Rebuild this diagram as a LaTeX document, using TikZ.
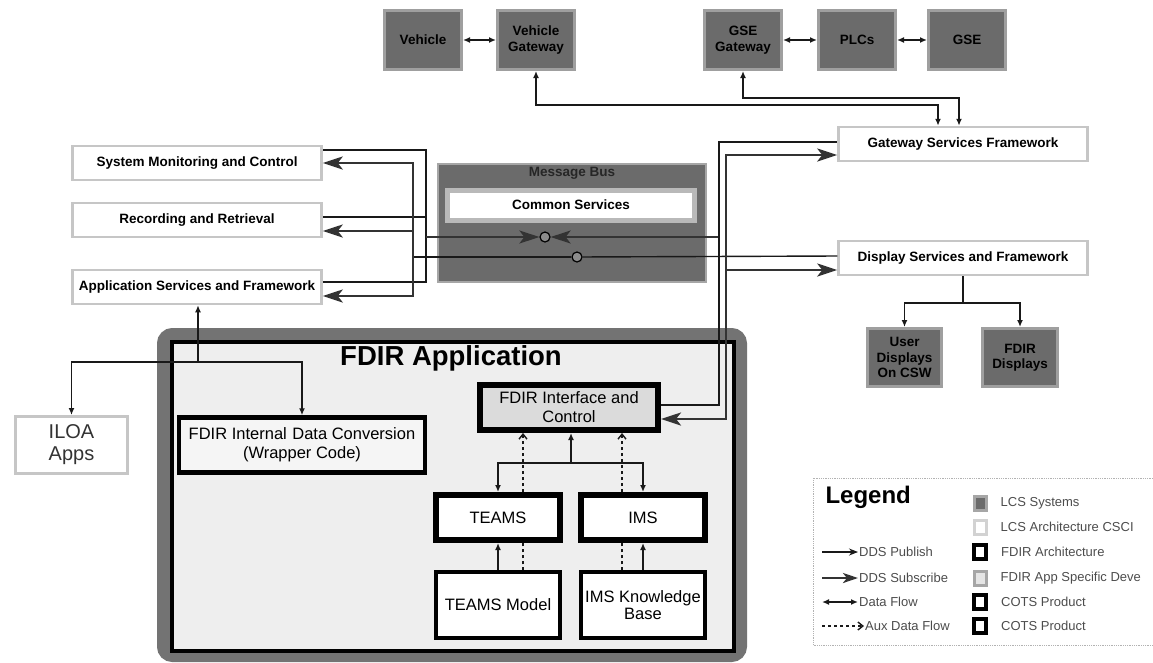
\documentclass[tikz,border=0pt]{standalone}
\usepackage{fontspec}
\setmainfont{Liberation Sans}
\usetikzlibrary{positioning, arrows.meta}

\begin{document}
\begin{tikzpicture}
[x=1pt, y=-1pt,
 >={Latex[length=7pt,width=6pt]},
 node distance=33pt,
 wire/.style={draw=black!90, line width=1.4pt},
 flow/.style={wire, <->},
 sub/.style={draw=black!80, line width=2.6pt, -{Stealth[length=20pt,width=13pt,inset=5pt]}},
 aux/.style={wire, dashed, -{Straight Barb[length=5pt,width=8pt]}},
 lcs/.style={draw=gray!75, line width=3pt, fill=black!58, align=center, inner sep=1pt,
   font=\bfseries\fontsize{13.5}{15.5}\selectfont, minimum width=77pt, minimum height=59pt},
 csci/.style={draw=gray!45, line width=2.5pt, fill=white, inner sep=1pt,
   font=\bfseries\fontsize{13.5}{15.5}\selectfont, minimum width=249pt, minimum height=34pt},
 fdir/.style={draw=black, line width=6pt, fill=white, align=center, inner sep=1pt,
   font=\fontsize{16.5}{19}\selectfont, minimum width=124pt, minimum height=45pt},
 cots/.style={draw=black, line width=3.5pt, fill=white, align=center, inner sep=1pt,
   font=\fontsize{16.5}{17}\selectfont, minimum width=124pt, minimum height=66pt},
 hub/.style={circle, draw=black, line width=1.2pt, fill=black!45, minimum size=10pt, inner sep=0pt},
 swatch/.style={minimum width=12pt, minimum height=14pt, inner sep=0pt},
 legtext/.style={anchor=west, inner sep=1pt, text=black!70, font=\fontsize{13}{15}\selectfont}
]
\useasboundingbox (0,0) rectangle (1153,662);

% FDIR application frame
\draw[black!55, line width=13pt, rounded corners=9pt, fill=gray!13] (163.5,334.5) rectangle (740.5,655.5);
\draw[line width=3.5pt] (172,342) rectangle (734,651);
\node[font=\bfseries\fontsize{27.5}{30}\selectfont] (apptitle) at (451,358) {FDIR Application};

% LCS systems
\node[lcs] (veh) at (423,40) {Vehicle};
\node[lcs, right=of veh] (vgw) {Vehicle\\Gateway};
\node[lcs] (ggw) at (743,40) {GSE\\Gateway};
\node[lcs, right=34pt of ggw] (plc) {PLCs};
\node[lcs, right=30pt of plc] (gse) {GSE};
\node[lcs, minimum width=74pt, minimum height=58pt] (usr) at (904.5,357.5) {User\\Displays\\On CSW};
\node[lcs, minimum width=75pt, minimum height=58pt] (fdd) at (1020,357.5) {FDIR\\Displays};

% LCS architecture CSCIs
\node[csci] (smc) at (197,163) {System Monitoring and Control};
\node[csci] (rec) at (197,220) {Recording and Retrieval};
\node[csci] (asf) at (197,287) {Application Services and Framework};
\node[csci] (gsf) at (963,144) {Gateway Services Framework};
\node[csci] (dsf) at (963,258) {Display Services and Framework};
\node[draw=gray!45, line width=3pt, fill=white, minimum width=112pt, minimum height=57pt,
  align=center, text=black!80, font=\fontsize{20}{22}\selectfont] (iloa) at (71.5,445) {ILOA\\Apps};

% message bus
\node[draw=gray!70, line width=2pt, fill=black!58, minimum width=268pt, minimum height=118pt] (bus) at (572,223) {};
\node[font=\bfseries\fontsize{13.5}{15.5}\selectfont, text=black!85] (bustitle) at (572,173) {Message Bus};
\node[draw=gray!55, line width=5pt, fill=white, minimum width=247pt, minimum height=30pt,
  font=\bfseries\fontsize{13.5}{15.5}\selectfont] (cmn) at (571,205) {Common Services};
\node[hub] (c1) at (545,237) {};
\node[hub] (c2) at (577,257) {};

% FDIR boxes
\node[cots, line width=4.5pt, fill=gray!8, minimum width=246pt, minimum height=55pt, font=\fontsize{16.5}{19}\selectfont] (wrp) at (302,445) {FDIR Internal\,\,Data Conversion\\(Wrapper Code)};
\node[fdir, fill=gray!28, minimum width=178pt] (ifc) at (569,407.5) {FDIR Interface and\\Control};
\node[fdir] (teams) at (498,517.5) {TEAMS};
\node[fdir] (ims) at (643,517.5) {IMS};
\node[cots] (tmod) at (498,605) {TEAMS Model};
\node[cots] (ikb) at (643,605) {IMS Knowledge\\Base};

\coordinate (pj) at (426,237);
\coordinate (sj) at (413,257);
\coordinate (rj) at (719,237);
\coordinate (dj) at (726,257);
\coordinate (aj) at (198,362);
\coordinate (tj) at (571,463);
\coordinate (dtj) at (963,303);

\draw[flow] (veh) -- (vgw);
\draw[flow] (ggw) -- (plc);
\draw[flow] (plc) -- (gse);
\draw[flow] (vgw.south) |- (938,105) -- ([xshift=-25pt]gsf.north);
\draw[flow] (ggw.south) |- (959,98) -- ([xshift=-4pt]gsf.north);

% publish into the bus
\draw[wire] ([yshift=13pt]smc.east) -| (pj);
\draw[wire] ([yshift=3pt]rec.east) -| (pj);
\draw[wire] ([yshift=5pt]asf.east) -| (pj);
\draw[sub] (pj) -- (c1);
\draw[sub] (rj) -- (c1);
\draw[wire] ([yshift=2.5pt]ifc.east) -| (719,142) -- ([yshift=2pt]gsf.west);

% subscribe from the bus
\draw[wire] (sj) -- (c2);
\draw[wire] (c2) -- ([yshift=2pt]dsf.west);
\draw[sub] (sj) |- (smc.east);
\draw[sub] (sj) |- ([yshift=-11pt]rec.east);
\draw[sub] (sj) |- ([yshift=-9pt]asf.east);
\draw[sub] (dj) |- ([yshift=-11pt]gsf.west);
\draw[sub] (dj) |- ([yshift=-12pt]dsf.west);
\draw[sub] (dj) |- ([yshift=-11.5pt]ifc.east);

\draw[wire] (dsf.south) -- (dtj);
\draw[wire, ->] (dtj) -| (usr.north);
\draw[wire, ->] (dtj) -| (fdd.north);

\draw[wire, ->] (aj) -- (asf.south -| aj);
\draw[wire, ->] (aj) -| (iloa.north);
\draw[wire, ->] (aj) -| (wrp.north);

\draw[wire, ->] (tj) -- (ifc.south -| tj);
\draw[wire, ->] (tj) -| (teams.north);
\draw[wire, ->] (tj) -| (ims.north);
\draw[aux] ([xshift=25pt]teams.north) -- ([xshift=25pt]teams.north |- ifc.south);
\draw[aux] ([xshift=-21pt]ims.north) -- ([xshift=-21pt]ims.north |- ifc.south);
\draw[wire, dashed] ([xshift=25pt]tmod.north) -- ([xshift=25pt]teams.south);
\draw[wire, dashed] ([xshift=-21pt]ikb.north) -- ([xshift=-21pt]ims.south);
\draw[wire, ->] (tmod) -- (teams);
\draw[wire, ->] (ikb) -- (ims);

% legend
\draw[gray!60, line width=0.8pt, densely dotted] (1153,478) -- (813,478) -- (813,645) -- (1153,645);
\node[anchor=west, font=\bfseries\fontsize{24}{26}\selectfont] (leg) at (822,497) {Legend};
\node[swatch, draw=gray!70, line width=3pt, fill=black!58] (s1) at (980,503) {};
\node[swatch, draw=gray!35, line width=3pt, fill=white] (s2) at (980,527) {};
\node[swatch, draw=black, line width=4pt, fill=white] (s3) at (980,552) {};
\node[swatch, draw=gray!70, line width=3pt, fill=gray!20] (s4) at (980,578) {};
\node[swatch, draw=black, line width=4pt, fill=white] (s5) at (980,602) {};
\node[swatch, draw=black, line width=4pt, fill=white] (s6) at (980,626) {};
\node[legtext, right=12pt of s1] {LCS Systems};
\node[legtext, right=12pt of s2] {LCS Architecture CSCI};
\node[legtext, right=12pt of s3] {FDIR Architecture};
\node[legtext, right=12pt of s4] {FDIR App Specific Deve};
\node[legtext, right=12pt of s5] {COTS Product};
\node[legtext, right=12pt of s6] {COTS Product};
\node[legtext] (lpub) at (858,552) {DDS Publish};
\node[legtext] (lsub) at (858,578) {DDS Subscribe};
\node[legtext] (lflow) at (858,602) {Data Flow};
\node[legtext] (laux) at (864,626) {Aux Data Flow};
\draw[wire, -{Stealth[length=9pt,width=7pt]}] ([xshift=-36pt]lpub.west) -- (lpub.west);
\draw[sub, -{Stealth[length=15pt,width=10pt,inset=4pt]}] ([xshift=-36pt]lsub.west) -- (lsub.west);
\draw[flow] ([xshift=-36pt]lflow.west) -- (lflow.west);
\draw[aux] ([xshift=-42pt]laux.west) -- (laux.west);
\end{tikzpicture}
\end{document}
